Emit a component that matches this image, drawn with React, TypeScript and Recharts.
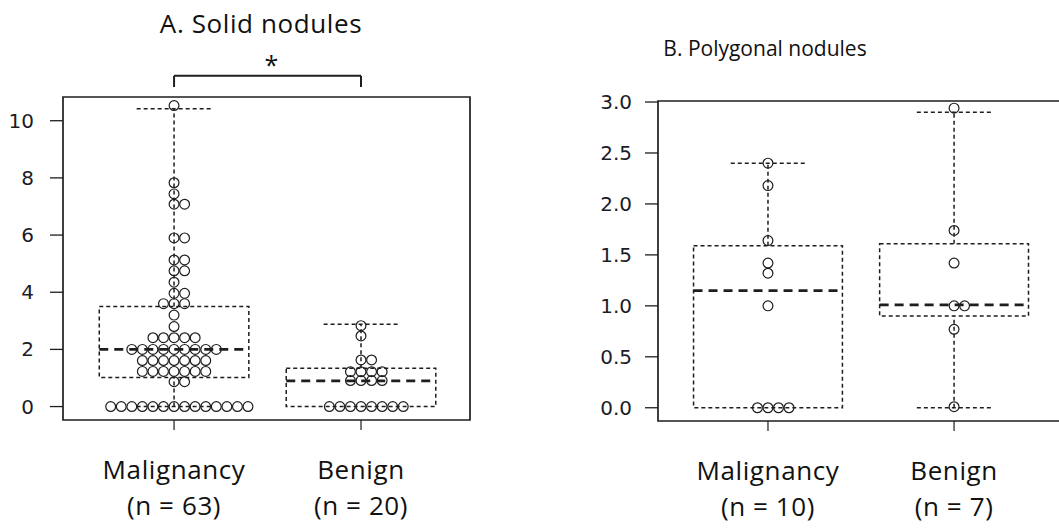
import React from "react";
import {
  ComposedChart,
  Scatter,
  XAxis,
  YAxis,
  ReferenceArea,
  ReferenceLine,
  ReferenceDot,
} from "recharts";

const INK = "#1e1e1e";
const NUM_FONT = "'DejaVu Sans', sans-serif";
const TEXT_FONT = "'Open Sans', sans-serif";

// A. Solid nodules
const solidCategories = ["Malignancy", "Benign"];
const solidCounts = ["(n = 63)", "(n = 20)"];
const solidMalignancy = [
  0, 0, 0, 0, 0, 0, 0, 0, 0, 0, 0, 0, 0, 0,
  0.87, 0.87,
  1.23, 1.23, 1.23, 1.23, 1.23, 1.23, 1.23,
  1.61, 1.61, 1.61, 1.61, 1.61, 1.61, 1.61,
  2.0, 2.0, 2.0, 2.0, 2.0, 2.0, 2.0, 2.0, 2.0,
  2.41, 2.41, 2.41, 2.41, 2.41,
  2.8, 3.2,
  3.6, 3.6, 3.6,
  3.96, 3.96,
  4.35,
  4.75, 4.75,
  5.13, 5.13,
  5.9, 5.9,
  7.08, 7.08,
  7.44, 7.83, 10.53,
];
const solidBenign = [
  0, 0, 0, 0, 0, 0, 0, 0,
  0.91, 0.91, 0.91, 0.91,
  1.22, 1.22, 1.22, 1.22,
  1.63, 1.63,
  2.47, 2.83,
];
const solidQ1 = [1.02, 0];
const solidMedian = [2.0, 0.9];
const solidQ3 = [3.5, 1.34];
const solidWhiskerLow = [0, 0];
const solidWhiskerHigh = [10.42, 2.88];
const solidTicks = [0, 2, 4, 6, 8, 10];

// B. Polygonal nodules
const polyCategories = ["Malignancy", "Benign"];
const polyCounts = ["(n = 10)", "(n = 7)"];
const polyMalignancy = [0, 0, 0, 0, 1.0, 1.32, 1.42, 1.64, 2.18, 2.4];
const polyBenign = [0.01, 0.77, 1.0, 1.0, 1.42, 1.74, 2.94];
const polyQ1 = [0, 0.9];
const polyMedian = [1.15, 1.01];
const polyQ3 = [1.59, 1.61];
const polyWhiskerLow = [0, 0];
const polyWhiskerHigh = [2.4, 2.9];
const polyTicks = [0, 0.5, 1.0, 1.5, 2.0, 2.5, 3.0];

const BOX_HALF = 0.4;
const CAP_HALF = 0.2;
const DOT_STEP = 0.0565;

// simple beeswarm: equal values spread sideways 0, +1, -1, +2, -2 ...
function swarm(values: number[], cat: number) {
  const seen = new Map<number, number>();
  return values.map((v) => {
    const k = seen.get(v) ?? 0;
    seen.set(v, k + 1);
    const off = k % 2 ? (k + 1) / 2 : -k / 2;
    return { x: cat + off * DOT_STEP, y: v };
  });
}

const Ring = (props: any) => (
  <circle cx={props.cx} cy={props.cy} r={4.9} fill="none" stroke={INK} strokeWidth={1.2} />
);

interface PanelProps {
  left: number;
  width: number;
  marginTop: number;
  marginRight: number;
  yAxisWidth: number;
  yTickMargin: number;
  xAxisHeight: number;
  xDomain: [number, number];
  yDomain: [number, number];
  yTicks: number[];
  yFormat: (v: number) => string;
  categories: string[];
  counts: string[];
  groups: number[][];
  q1: number[];
  median: number[];
  q3: number[];
  whiskerLow: number[];
  whiskerHigh: number[];
  children?: React.ReactNode;
}

function Panel(p: PanelProps) {
  const cats = [1, 2];
  const dashed = { stroke: INK, strokeWidth: 1.5, strokeDasharray: "4 3" };
  const label = {
    textAnchor: "middle" as const,
    dominantBaseline: "central" as const,
    fontFamily: TEXT_FONT,
    fontSize: 26,
    letterSpacing: 0.6,
    fill: "#111",
  };
  return (
    <div style={{ position: "absolute", left: p.left, top: 0 }}>
      <ComposedChart
        width={p.width}
        height={530}
        margin={{ top: p.marginTop, right: p.marginRight, bottom: 10, left: 0 }}
      >
        <XAxis
          type="number"
          dataKey="x"
          domain={p.xDomain}
          ticks={cats}
          interval={0}
          allowDataOverflow
          axisLine={false}
          tickSize={10}
          tickLine={{ stroke: INK, strokeWidth: 1.2 }}
          height={p.xAxisHeight}
          tick={(t: any) => (
            <g>
              <text x={t.x} y={t.y + 37} {...label}>
                {p.categories[t.payload.value - 1]}
              </text>
              <text x={t.x} y={t.y + 73} {...label}>
                {p.counts[t.payload.value - 1]}
              </text>
            </g>
          )}
        />
        <YAxis
          type="number"
          dataKey="y"
          domain={p.yDomain}
          ticks={p.yTicks}
          interval={0}
          allowDataOverflow
          axisLine={false}
          tickSize={13}
          tickMargin={p.yTickMargin}
          tickLine={{ stroke: INK, strokeWidth: 1.3 }}
          width={p.yAxisWidth}
          tickFormatter={p.yFormat}
          tick={{ fontSize: 20, fill: "#1c1c28", fontFamily: NUM_FONT }}
        />

        <ReferenceArea
          x1={p.xDomain[0]}
          x2={p.xDomain[1]}
          y1={p.yDomain[0]}
          y2={p.yDomain[1]}
          fill="none"
          stroke={INK}
          strokeWidth={1.7}
          ifOverflow="visible"
        />

        {cats.map((c, i) => (
          <ReferenceArea
            key={`box${c}`}
            x1={c - BOX_HALF}
            x2={c + BOX_HALF}
            y1={p.q1[i]}
            y2={p.q3[i]}
            fill="none"
            {...dashed}
          />
        ))}
        {cats.map((c, i) => (
          <ReferenceLine
            key={`med${c}`}
            segment={[
              { x: c - BOX_HALF, y: p.median[i] },
              { x: c + BOX_HALF, y: p.median[i] },
            ]}
            stroke={INK}
            strokeWidth={2.8}
            strokeDasharray="9 6"
          />
        ))}
        {cats.map((c, i) => (
          <ReferenceLine
            key={`wh${c}`}
            segment={[
              { x: c, y: p.q3[i] },
              { x: c, y: p.whiskerHigh[i] },
            ]}
            {...dashed}
          />
        ))}
        {cats.map((c, i) => (
          <ReferenceLine
            key={`capHi${c}`}
            segment={[
              { x: c - CAP_HALF, y: p.whiskerHigh[i] },
              { x: c + CAP_HALF, y: p.whiskerHigh[i] },
            ]}
            {...dashed}
          />
        ))}
        {cats.map((c, i) =>
          p.whiskerLow[i] < p.q1[i] ? (
            <ReferenceLine
              key={`wl${c}`}
              segment={[
                { x: c, y: p.whiskerLow[i] },
                { x: c, y: p.q1[i] },
              ]}
              {...dashed}
            />
          ) : null
        )}
        {cats.map((c, i) =>
          p.whiskerLow[i] < p.q1[i] ? (
            <ReferenceLine
              key={`capLo${c}`}
              segment={[
                { x: c - CAP_HALF, y: p.whiskerLow[i] },
                { x: c + CAP_HALF, y: p.whiskerLow[i] },
              ]}
              {...dashed}
            />
          ) : null
        )}

        {p.groups.map((g, i) => (
          <Scatter
            key={`pts${i}`}
            data={swarm(g, cats[i])}
            shape={Ring}
            isAnimationActive={false}
          />
        ))}

        {p.children}
      </ComposedChart>
    </div>
  );
}

export default function App() {
  return (
    <div
      style={{
        position: "absolute",
        left: 0,
        top: 0,
        width: 1059,
        height: 530,
        overflow: "hidden",
        background: "#fff",
      }}
    >
      <div
        style={{
          position: "absolute",
          left: 111,
          top: 3,
          width: 300,
          textAlign: "center",
          fontFamily: TEXT_FONT,
          fontSize: 26,
          letterSpacing: 0.6,
          lineHeight: "40px",
          color: "#111",
        }}
      >
        A. Solid nodules
      </div>
      <div
        style={{
          position: "absolute",
          left: 615,
          top: 30,
          width: 300,
          textAlign: "center",
          fontFamily: TEXT_FONT,
          fontSize: 21,
          lineHeight: "36px",
          color: "#111",
        }}
      >
        B. Polygonal nodules
      </div>

      <Panel
        left={0}
        width={530}
        marginTop={97}
        marginRight={60}
        yAxisWidth={63}
        yTickMargin={16}
        xAxisHeight={100}
        xDomain={[0.406, 2.583]}
        yDomain={[-0.47, 10.83]}
        yTicks={solidTicks}
        yFormat={(v) => String(v)}
        categories={solidCategories}
        counts={solidCounts}
        groups={[solidMalignancy, solidBenign]}
        q1={solidQ1}
        median={solidMedian}
        q3={solidQ3}
        whiskerLow={solidWhiskerLow}
        whiskerHigh={solidWhiskerHigh}
      >
        <ReferenceLine
          segment={[{ x: 1, y: 11.57 }, { x: 2, y: 11.57 }]}
          stroke={INK}
          strokeWidth={2}
          ifOverflow="visible"
        />
        <ReferenceLine
          segment={[{ x: 1, y: 11.18 }, { x: 1, y: 11.57 }]}
          stroke={INK}
          strokeWidth={2}
          ifOverflow="visible"
        />
        <ReferenceLine
          segment={[{ x: 2, y: 11.18 }, { x: 2, y: 11.57 }]}
          stroke={INK}
          strokeWidth={2}
          ifOverflow="visible"
        />
        <ReferenceDot
          x={1.52}
          y={12.0}
          ifOverflow="visible"
          shape={(d: any) => (
            <text
              x={d.cx}
              y={d.cy}
              textAnchor="middle"
              dominantBaseline="central"
              fontFamily={TEXT_FONT}
              fontSize={25}
              fill="#111"
            >
              *
            </text>
          )}
        />
      </Panel>

      <Panel
        left={530}
        width={560}
        marginTop={101}
        marginRight={28}
        yAxisWidth={128}
        yTickMargin={13}
        xAxisHeight={99}
        xDomain={[0.409, 2.58]}
        yDomain={[-0.13, 3.01]}
        yTicks={polyTicks}
        yFormat={(v) => v.toFixed(1)}
        categories={polyCategories}
        counts={polyCounts}
        groups={[polyMalignancy, polyBenign]}
        q1={polyQ1}
        median={polyMedian}
        q3={polyQ3}
        whiskerLow={polyWhiskerLow}
        whiskerHigh={polyWhiskerHigh}
      />
    </div>
  );
}
